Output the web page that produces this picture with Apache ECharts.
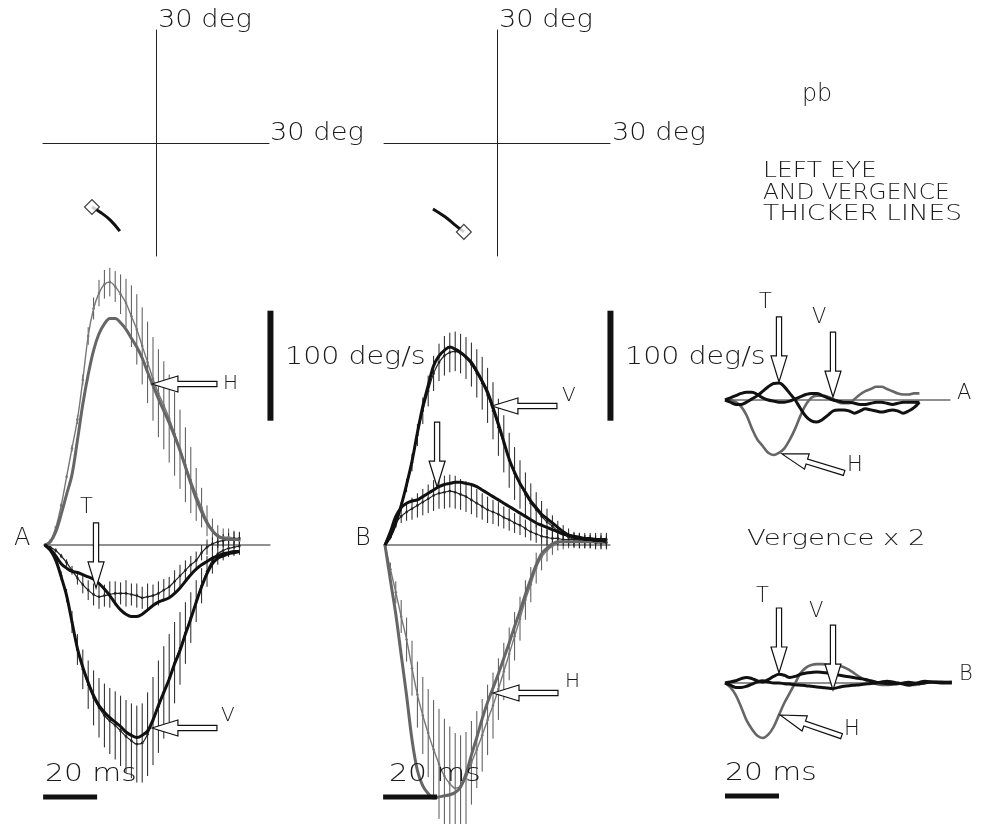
<!DOCTYPE html>
<html><head><meta charset="utf-8">
<script src="https://cdn.jsdelivr.net/npm/echarts@6/dist/echarts.min.js"></script>
<style>html,body{margin:0;padding:0;background:#fff}#c{width:986px;height:824px}</style>
</head><body><div id="c"></div>
<script>
// ---------------- DATA ----------------
// time samples (ms)
const timeA  = [0,2,4,6,8,10,12,14,16,18,20,22,24,26,28,30,32,34,36,38,40,42,44,46,48,50,52,54,56,58,60,62,64,66,68,70,72];
const timeB  = [0,2,4,6,8,10,12,14,16,18,20,22,24,26,28,30,32,34,36,38,40,42,44,46,48,50,52,54,56,58,60,62,64,66,68,70,72,74,76,78,80,82];
const timeVA = timeA;
const timeVB = [0,2,4,6,8,10,12,14,16,18,20,22,24,26,28,30,32,34,36,38,40,42,44,46,48,50,52,54,56,58,60,62,64,66,68,70,72,74,76,78,80,82,84];

// Panel A velocities (deg/s). Left eye = thick, right eye = thin.
const A_H_left  = [0,3,12,28,46,64,95,128,155,177,192,201,206,206,202,196,188,180,170,157,145,133,122,111,99,86,71,56,42,30,20,13,8,6,5,5,5];
const A_H_right = [0,4,16,36,62,88,114,150,190,215,229,237,239,235,228,220,208,196,181,166,151,138,127,115,101,87,73,59,46,34,22,14,9,7,7,6,4];
const A_H_sd    = [0,1,1,2,2,3,4,5,8,10,12,13,13,14,18,22,28,32,35,37,38,40,40,40,38,36,34,30,24,18,14,10,9,8,8,7,7];
const A_V_left  = [0,-5,-14,-29,-46,-70,-94,-111,-125,-137,-146,-152,-157,-161,-165,-170,-173,-175,-173,-169,-159,-146,-134,-122,-108,-96,-81,-67,-52,-38,-26,-17,-12,-10,-8,-7,-6];
const A_V_right = [0,-4,-13,-28,-46,-70,-95,-113,-127,-139,-148,-155,-160,-164,-169,-174,-178,-181,-180,-172,-160,-147,-134,-121,-107,-94,-80,-66,-51,-37,-24,-14,-8,-5,-3,-2,-1];
const A_V_sd    = [0,1,2,4,6,10,14,18,22,25,27,29,30,31,32,33,34,35,36,38,40,42,42,40,37,33,28,23,19,16,14,12,10,9,8,8,8];
const A_T_left  = [0,-4,-10,-17,-21,-24,-25,-27,-29,-31,-35,-40,-46,-53,-59,-63,-65,-65,-63,-59,-55,-52,-50,-48,-44,-39,-33,-27,-22,-18,-15,-12,-10,-8,-7,-6,-6];
const A_T_right = [0,-2,-5,-10,-16,-23,-30,-36,-41,-45,-47,-46,-45,-44,-44,-44,-45,-46,-48,-47,-46,-44,-41,-38,-33,-28,-23,-18,-14,-7,-2,1,3,4,5,6,6];
const A_T_sd    = [0,1,2,2,3,4,6,8,9,10,11,10,12,11,10,12,10,11,10,12,10,11,10,9,10,10,9,8,8,7,7,6,6,6,6,6,6];

// Panel B velocities (deg/s)
const B_V_left  = [0,8,20,36,55,76,102,126,145,163,172,177,180,178,175,171,166,158,149,139,125,110,94,78,66,56,48,40,34,28,24,20,16,12,9,7,6,5,5,4,4,3];
const B_V_right = [0,7,19,35,54,75,100,122,140,156,166,172,175,176,174,170,164,156,147,136,122,107,92,77,65,55,46,38,32,26,21,17,13,10,7,5,4,3,3,2,2,2];
const B_V_sd    = [1,2,3,4,6,8,10,12,14,16,17,18,18,18,18,19,20,22,24,25,26,26,26,25,24,22,20,18,16,14,12,10,9,8,8,7,7,6,6,6,6,6];
const B_T_left  = [0,12,26,34,38,40,41,44,47,50,53,55,56,57,57,56,55,53,50,47,44,41,38,35,32,29,26,23,20,18,16,14,12,10,9,8,7,6,6,5,5,5];
const B_T_right = [0,10,20,26,30,33,36,39,42,45,47,48,49,48,46,44,41,38,35,32,30,28,25,23,20,18,15,12,10,8,7,6,6,5,5,5,5,5,5,5,5,5];
const B_T_sd    = [1,2,4,6,8,10,11,12,13,14,14,15,15,15,14,14,13,13,12,12,11,11,10,10,9,9,8,8,8,7,7,7,6,6,6,6,6,6,6,6,6,6];
const B_H_left  = [0,-32,-63,-100,-137,-177,-205,-219,-226,-230,-229,-228,-227,-225,-220,-208,-191,-175,-158,-143,-130,-117,-103,-89,-74,-60,-45,-31,-18,-8,-3,1,3,3,3,3,3,3,3,3,3,3];
const B_H_right = [0,-22,-43,-65,-86,-112,-136,-155,-171,-186,-199,-210,-217,-221,-219,-212,-198,-186,-173,-159,-146,-131,-115,-99,-83,-67,-50,-36,-21,-11,-5,-1,2,3,3,3,3,3,3,3,3,3];
const B_H_sd    = [2,6,10,15,20,25,30,35,40,45,50,52,52,50,46,42,38,35,33,32,30,28,26,24,22,20,18,16,14,12,10,8,7,7,6,6,6,6,6,6,6,6];

// Vergence velocities (deg/s, true values; drawn x 2)
const VA_H = [0,0,-1,-3,-7,-13,-18,-21,-24,-25,-24,-22,-18,-13,-7,-2,1,2,2,1.5,0.5,-1,-1.5,-1.5,0.5,2.5,4,5,6,6,5,4,3,2.5,2.5,3,3];
const VA_T = [0,-1,-2,-2,-1,0.5,2,4,6,7.5,7.7,6,3,0,-4,-7.5,-9.5,-10,-9,-7,-5,-4.5,-4.5,-5,-6,-5,-4,-4.5,-5,-5.5,-5,-4.5,-5,-6,-5,-3.5,-1];
const VA_V = [0,1,2,3,3.5,3.5,2.5,1,0,-0.5,-1,-1,-0.5,0.5,1.5,2.5,3,3,2,1,0,-0.5,-1,-1,-1.5,-2,-2,-1.5,-1,-1,-1.5,-2,-1.5,-1,-1,-1,-1];
const VB_H = [0,-2,-5.5,-11,-17,-21,-24,-25,-23.5,-20,-14.5,-9,-4.5,0,4.5,7,8.2,8.6,8.6,8.4,8.2,7.8,7.2,6,4.3,2.7,1.3,0.2,-0.5,-0.9,-0.9,-0.5,0,-0.3,-0.8,-0.9,-0.5,0,0.4,0.5,0.5,0.5,0.5];
const VB_T = [0,0.5,1,2,2.5,2,1,0.5,1.5,3,4,3.5,2.5,3,4,4.5,4.8,5,4.8,4.5,4,3.6,3.2,2.8,2.4,2,1.6,1,0.4,0,-0.3,-0.5,-0.4,0,0.3,0,-0.3,0,0.4,0.5,0.3,0.2,0.3];
const VB_V = [0,-1,-2,-2,-1.5,-0.5,0.5,1,0.5,0,0,-0.3,-0.5,-0.8,-1,-1.2,-1.5,-1.8,-2,-2.3,-2.5,-2,-1.5,-1.2,-1,-0.8,-0.5,-0.2,0,0.5,0.8,0.5,0,-0.5,-1,-0.5,0.3,0.8,0.6,0.2,0,0,0];
const VERGENCE_GAIN = 2;

// Eye position trajectories (deg): [horizontal, vertical]
const trajA = [[-17.0,-17.0],[-14.9,-18.3],[-12.2,-20.4],[-9.6,-23.4]];
const trajB = [[-8.8,-23.6],[-11.1,-21.8],[-13.8,-19.6],[-17.0,-17.5]];

// scale bars
const SCALE_MS = 20, SCALE_DEG = 100, AXIS_DEG = 30, BASE_END = 83.5;

// ---------------- BUILD ----------------
const FONT = '"DejaVu Sans", "Liberation Sans", sans-serif';
const pair = (ts, vs, k) => ts.map((t, i) => [t, vs[i] * (k || 1)]);
const triple = (ts, vs, es) => ts.map((t, i) => [t, vs[i], es[i]]);

function trace(gi, ts, vs, color, width, dots, k) {
  return {
    type: 'line', xAxisIndex: gi, yAxisIndex: gi, data: pair(ts, vs, k),
    smooth: 0.35, symbol: dots ? 'circle' : 'none', symbolSize: 2.6,
    showSymbol: !!dots, showAllSymbol: true, silent: true, animation: false,
    lineStyle: { color: color, width: width }, itemStyle: { color: color }, z: width > 2 ? 4 : 3
  };
}
function errBars(gi, ts, vs, es, color) {
  return {
    type: 'custom', xAxisIndex: gi, yAxisIndex: gi, data: triple(ts, vs, es), silent: true, animation: false, z: 2,
    renderItem: function (params, api) {
      const t = api.value(0), v = api.value(1), e = api.value(2);
      const p1 = api.coord([t, v - e]), p2 = api.coord([t, v + e]);
      return { type: 'line', shape: { x1: p1[0], y1: p1[1], x2: p2[0], y2: p2[1] },
               style: { stroke: color, lineWidth: 1 } };
    }
  };
}
function segment(gi, pts, color, width, z) {
  return { type: 'line', xAxisIndex: gi, yAxisIndex: gi, data: pts, symbol: 'none', silent: true, animation: false,
           lineStyle: { color: color, width: width, cap: 'butt' }, z: z || 1 };
}
function arrows(gi, list) {
  return {
    type: 'custom', xAxisIndex: gi, yAxisIndex: gi, data: list, silent: true, animation: false, z: 6,
    renderItem: function (params, api) {
      const tip = api.coord([api.value(0), api.value(1)]);
      const a = api.value(2) * Math.PI / 180, c = Math.cos(a), s = Math.sin(a);
      const L = 65, H = 26, hw = 8, sw = 2.6;
      const loc = [[0,0],[-H,hw],[-H,sw],[-L,sw],[-L,-sw],[-H,-sw],[-H,-hw]];
      const pts = loc.map(p => [tip[0] + p[0]*c - p[1]*s, tip[1] + p[0]*s + p[1]*c]);
      return { type: 'polygon', shape: { points: pts }, style: { fill: '#fff', stroke: '#111', lineWidth: 1.2 } };
    }
  };
}

const grids = [
  { left: 43, top: 30, width: 226, height: 226 },
  { left: 384, top: 30, width: 226, height: 226 },
  { left: 45, top: 248, width: 229.5, height: 572 },
  { left: 385, top: 248, width: 229.5, height: 572 },
  { left: 725, top: 290, width: 229.5, height: 220 },
  { left: 725, top: 573, width: 229.5, height: 242 }
];
const crossAxis = {
  type: 'value', min: -AXIS_DEG, max: AXIS_DEG, show: true,
  axisLine: { show: true, onZero: true, lineStyle: { color: '#222', width: 1 } },
  axisTick: { show: false }, axisLabel: { show: false }, splitLine: { show: false }
};
const hiddenX = { type: 'value', min: 0, max: 85, show: false };
const xAxes = [Object.assign({ gridIndex: 0 }, crossAxis), Object.assign({ gridIndex: 1 }, crossAxis),
  Object.assign({ gridIndex: 2 }, hiddenX), Object.assign({ gridIndex: 3 }, hiddenX),
  Object.assign({ gridIndex: 4 }, hiddenX), Object.assign({ gridIndex: 5 }, hiddenX)];
const yAxes = [Object.assign({ gridIndex: 0 }, crossAxis), Object.assign({ gridIndex: 1 }, crossAxis),
  { gridIndex: 2, type: 'value', min: -250, max: 270, show: false },
  { gridIndex: 3, type: 'value', min: -250, max: 270, show: false },
  { gridIndex: 4, type: 'value', min: -100, max: 100, show: false },
  { gridIndex: 5, type: 'value', min: -120, max: 100, show: false }];

const GRAY = '#666', GRAY_T = '#777', BLK = '#111', BLK_T = '#222';
const series = [];
// trajectories
[[0, trajA], [1, trajB]].forEach(([gi, tr]) => {
  series.push({ type: 'line', xAxisIndex: gi, yAxisIndex: gi, data: tr, smooth: 0.4, symbol: 'none', silent: true,
    animation: false, lineStyle: { color: BLK, width: 3 }, z: 3 });
  series.push({ type: 'scatter', xAxisIndex: gi, yAxisIndex: gi, data: [tr[0]], symbol: 'rect', symbolSize: 10.5,
    symbolRotate: 45, silent: true, animation: false, itemStyle: { color: '#fff', borderColor: BLK, borderWidth: 1.2 }, z: 4 });
});
// baselines and scale bars
[2, 3].forEach(gi => {
  series.push(segment(gi, [[0, 0], [BASE_END, 0]], '#222', 1, 1));
  series.push(segment(gi, [[BASE_END, 213], [BASE_END, 213 - SCALE_DEG]], BLK, 6, 5));
  series.push(segment(gi, [[-0.7, -229], [-0.7 + SCALE_MS, -229]], BLK, 5, 5));
});
[4, 5].forEach(gi => series.push(segment(gi, [[0, 0], [BASE_END, 0]], '#222', 1, 1)));
series.push(segment(5, [[0, -102.7], [SCALE_MS, -102.7]], BLK, 5, 5));

// panel A
series.push(errBars(2, timeA, A_H_right, A_H_sd, '#555'));
series.push(errBars(2, timeA, A_V_right, A_V_sd, '#222'));
series.push(errBars(2, timeA, A_T_right, A_T_sd, '#222'));
series.push(trace(2, timeA, A_H_right, GRAY_T, 1.4, true));
series.push(trace(2, timeA, A_H_left, GRAY, 3));
series.push(trace(2, timeA, A_V_right, BLK_T, 1.2, true));
series.push(trace(2, timeA, A_V_left, BLK, 3));
series.push(trace(2, timeA, A_T_right, BLK_T, 1.2, true));
series.push(trace(2, timeA, A_T_left, BLK, 3));
// panel B
series.push(errBars(3, timeB, B_H_right, B_H_sd, '#555'));
series.push(errBars(3, timeB, B_V_right, B_V_sd, '#222'));
series.push(errBars(3, timeB, B_T_right, B_T_sd, '#222'));
series.push(trace(3, timeB, B_H_right, GRAY_T, 1.4, true));
series.push(trace(3, timeB, B_H_left, GRAY, 3));
series.push(trace(3, timeB, B_V_right, BLK_T, 1.2, true));
series.push(trace(3, timeB, B_V_left, BLK, 3));
series.push(trace(3, timeB, B_T_right, BLK_T, 1.2, true));
series.push(trace(3, timeB, B_T_left, BLK, 3));
// vergence
series.push(trace(4, timeVA, VA_H, GRAY, 2.6, false, VERGENCE_GAIN));
series.push(trace(4, timeVA, VA_V, BLK, 3, false, VERGENCE_GAIN));
series.push(trace(4, timeVA, VA_T, BLK, 3, false, VERGENCE_GAIN));
series.push(trace(5, timeVB, VB_H, GRAY, 2.6, false, VERGENCE_GAIN));
series.push(trace(5, timeVB, VB_V, BLK, 3, false, VERGENCE_GAIN));
series.push(trace(5, timeVB, VB_T, BLK, 3, false, VERGENCE_GAIN));

// annotation arrows: [time, value, pointing angle]
series.push(arrows(2, [[39.6, 146.4, 180], [39.6, -166.4, 180], [18.9, -39, 90]]));
series.push(arrows(3, [[39.6, 126.4, 180], [19.3, 52.7, 90], [40, -134.5, 180]]));
series.push(arrows(4, [[20, 16.4, 90], [40, 2.7, 90], [21.1, -49, 197]]));
series.push(arrows(5, [[20, 9.1, 90], [40, -6.4, 90], [20.4, -29.1, 199]]));

// texts
function txt(s, x, y, size, sx) {
  return { type: 'text', x: x, y: y, scaleX: sx || 1, z: 10, silent: true,
    style: { text: s, fontSize: size, fontFamily: FONT, fontWeight: 200, fill: '#1a1a1a', align: 'left', verticalAlign: 'middle' } };
}
const texts = [
  txt('30 deg', 158, 20, 25, 1.09), txt('30 deg', 270, 133, 25, 1.09),
  txt('30 deg', 499, 20, 25, 1.09), txt('30 deg', 612, 133, 25, 1.09),
  txt('pb', 802, 94, 25, 0.95),
  txt('LEFT EYE', 763, 172, 21, 1.19), txt('AND VERGENCE', 763, 194, 21, 1.11), txt('THICKER LINES', 763, 215, 21, 1.26),
  txt('100 deg/s', 285, 357, 25, 1.14), txt('100 deg/s', 625, 357, 25, 1.14),
  txt('A', 14, 539, 24), txt('B', 355, 539, 24),
  txt('T', 80, 508, 21), txt('H', 223, 384, 20), txt('V', 221, 716, 20),
  txt('V', 562, 396, 20), txt('H', 565, 682, 20),
  txt('20 ms', 45, 774, 25, 1.19), txt('20 ms', 389, 774, 25, 1.19), txt('20 ms', 725, 773, 25, 1.19),
  txt('Vergence x 2', 747, 540, 21, 1.31),
  txt('T', 759, 303, 21), txt('V', 812, 318, 21), txt('H', 847, 466, 21), txt('A', 957, 394, 21),
  txt('T', 756, 597, 21), txt('V', 809, 612, 21), txt('H', 844, 730, 21), txt('B', 959, 675, 21)
];

const chart = echarts.init(document.getElementById('c'), null, { renderer: 'canvas' });
chart.setOption({
  backgroundColor: '#fff', animation: false,
  grid: grids, xAxis: xAxes, yAxis: yAxes, series: series,
  graphic: { elements: texts }
});
</script></body></html>
